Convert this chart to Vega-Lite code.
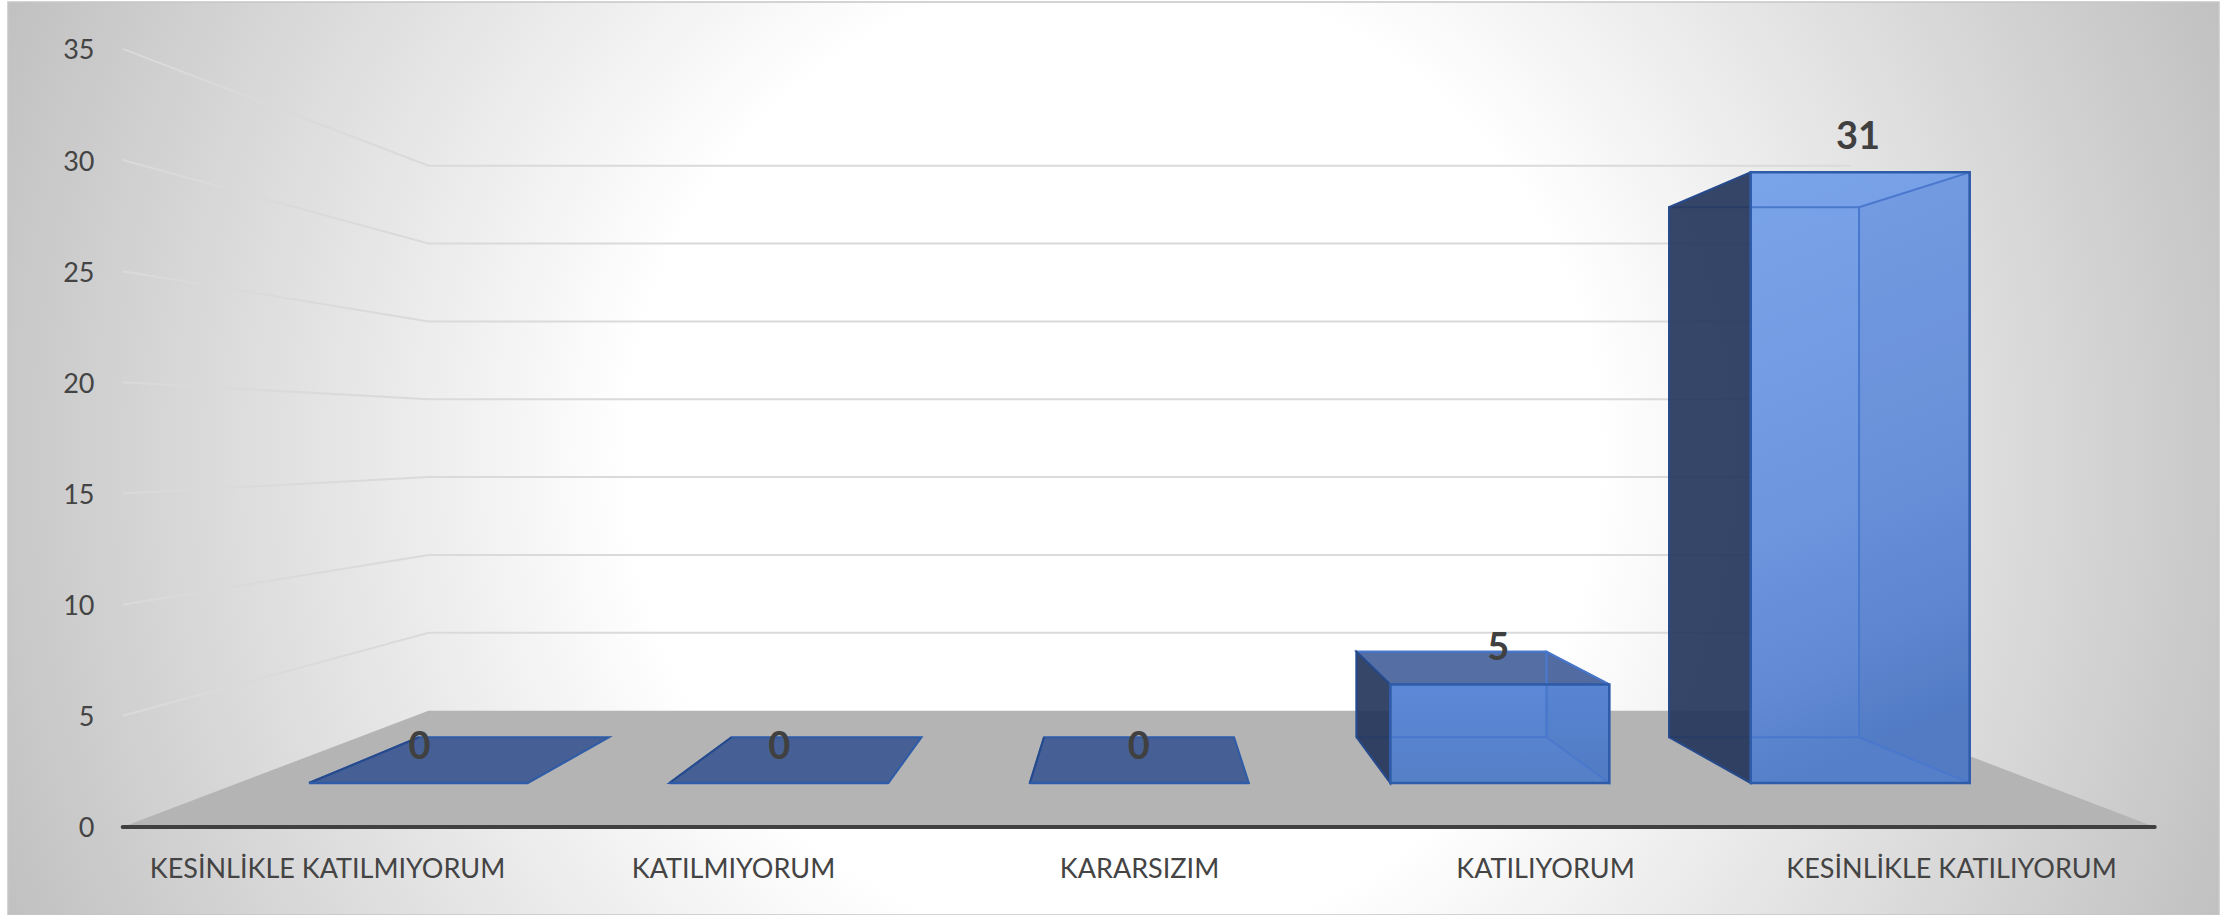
{
"$schema":"https://vega.github.io/schema/vega-lite/v6.json",
"width":2211,"height":913,"autosize":{"type":"none"},
"padding":{"left":8,"top":2,"right":15,"bottom":0},
"background":"white",
"config":{"view":{"stroke":"#c6c6c6","strokeWidth":1.5,"fill":{"gradient":"radial","x1":0.5,"y1":0.5,"r1":0,"x2":0.5,"y2":0.5,"r2":0.55,"stops":[{"offset":0,"color":"#ffffff"},{"offset":0.399,"color":"#ffffff"},{"offset":1,"color":"#bfbfbf"}]}},"font":"Lato"},
"datasets":{
"bars":[
{"category":"KESİNLİKLE KATILMIYORUM","i":0,"value":0},
{"category":"KATILMIYORUM","i":1,"value":0},
{"category":"KARARSIZIM","i":2,"value":0},
{"category":"KATILIYORUM","i":3,"value":5},
{"category":"KESİNLİKLE KATILIYORUM","i":4,"value":31}],
"ticks":[{"tick":0},{"tick":5},{"tick":10},{"tick":15},{"tick":20},{"tick":25},{"tick":30},{"tick":35}]
},
"layer":[
{"data":{"name":"ticks"},
 "transform":[{"filter":"datum.tick==0"},{"calculate":"[0,1]","as":"ts"},{"flatten":["ts"],"as":["t"]},
  {"calculate":"5.232*datum.t","as":"fy"},{"calculate":"0.4968+(1.25-0.4968)*datum.t","as":"fl"},{"calculate":"5.5017+(4.754-5.5017)*datum.t","as":"fr"}],
 "mark":{"type":"area","orient":"horizontal","fill":"#b4b4b4"},
 "encoding":{
  "y":{"field":"fy","type":"quantitative","stack":null,"scale":{"domain":[-3.959,37.11],"nice":false,"zero":false},
   "axis":{"values":[0,5,10,15,20,25,30,35],"title":null,"domain":false,"ticks":false,"grid":false,"offset":-86,"labelPadding":0,"labelOffset":2,"labelFontSize":27,"labelColor":"#444444","labelFont":"Lato","labelBaseline":"middle"}},
  "x":{"field":"fl","type":"quantitative","stack":null,"scale":{"domain":[0.2143,5.66],"nice":false,"zero":false},
   "axis":{"values":[1,2,3,4,5],"title":null,"domain":false,"ticks":false,"grid":false,"offset":-46,"labelPadding":0,"labelFontSize":27,"labelLimit":700,"labelColor":"#444444","labelFont":"Lato","labelBaseline":"middle","labelOverlap":false,"labelBound":false,"labelFlush":false,
    "labelExpr":"['KESİNLİKLE KATILMIYORUM','KATILMIYORUM','KARARSIZIM','KATILIYORUM','KESİNLİKLE KATILIYORUM'][datum.value-1]"}},
  "x2":{"field":"fr"}}},
{"data":{"name":"ticks"},
 "transform":[{"filter":"datum.tick>0"},{"calculate":"[0,1,2]","as":"ps"},{"flatten":["ps"],"as":["p"]},
  {"calculate":"datum.p==0?0.4968:(datum.p==1?1.25:4.754)","as":"gx"},
  {"calculate":"datum.p==0?datum.tick:5.232+0.7004*datum.tick","as":"gy"}],
 "mark":{"type":"line","color":"#dadada","strokeWidth":2},
 "encoding":{
  "x":{"field":"gx","type":"quantitative","scale":{"domain":[0.2143,5.66],"nice":false,"zero":false}},
  "y":{"field":"gy","type":"quantitative","scale":{"domain":[-3.959,37.11],"nice":false,"zero":false}},
  "detail":{"field":"tick"}}},
{"data":{"name":"ticks"},
 "transform":[{"filter":"datum.tick==0"},{"calculate":"0.4968","as":"a"},{"calculate":"5.5017","as":"b"}],
 "mark":{"type":"rule","color":"#404040","strokeWidth":4,"strokeCap":"round"},
 "encoding":{
  "x":{"field":"a","type":"quantitative","scale":{"domain":[0.2143,5.66],"nice":false,"zero":false}},
  "x2":{"field":"b"},
  "y":{"field":"tick","type":"quantitative","scale":{"domain":[-3.959,37.11],"nice":false,"zero":false}}}},
{"data":{"name":"bars"},
 "transform":[
  {"calculate":"0.9557+0.8877*datum.i","as":"xF"},
  {"calculate":"datum.xF+0.5394","as":"xFr"},
  {"calculate":"1.2266+0.7697*datum.i","as":"xB"},
  {"calculate":"datum.xB+0.468","as":"xBr"},
  {"calculate":"1.979+0.8862*datum.value","as":"topF"},
  {"calculate":"4.035+0.7691*datum.value","as":"topB"},
  {"calculate":"1.979","as":"baseF"},
  {"calculate":"4.035","as":"baseB"},
  {"calculate":"[0,1]","as":"ts"},
  {"flatten":["ts"],"as":["t"]},
  {"calculate":"datum.xB+(datum.xF-datum.xB)*datum.t","as":"lx"},
  {"calculate":"datum.xBr+(datum.xFr-datum.xBr)*datum.t","as":"rx"},
  {"calculate":"datum.topB+(datum.topF-datum.topB)*datum.t","as":"ty"},
  {"calculate":"datum.baseB+(datum.baseF-datum.baseB)*datum.t","as":"by"}],
 "layer":[
  {"transform":[{"filter":"datum.topB>datum.topF"}],
   "mark":{"type":"area","orient":"horizontal","fill":"#2a4a8c","fillOpacity":0.8,"stroke":"#2f5ca8","strokeWidth":2},
   "encoding":{
    "y":{"field":"ty","type":"quantitative","stack":null,"scale":{"domain":[-3.959,37.11],"nice":false,"zero":false}},
    "x":{"field":"lx","type":"quantitative","stack":null,"scale":{"domain":[0.2143,5.66],"nice":false,"zero":false}},
    "x2":{"field":"rx"},"detail":{"field":"category"}}},
  {"transform":[{"filter":"datum.t==1"}],
   "mark":{"type":"rect"},
   "encoding":{
    "x":{"field":"xF","type":"quantitative","scale":{"domain":[0.2143,5.66],"nice":false,"zero":false}},
    "x2":{"field":"xFr"},
    "y":{"field":"topF","type":"quantitative","scale":{"domain":[-3.959,37.11],"nice":false,"zero":false}},
    "y2":{"field":"baseF"},
    "fill":{"condition":{"test":"datum.value>10","value":{"gradient":"linear","x1":0,"y1":0,"x2":0.15,"y2":1,"stops":[{"offset":0,"color":"#7aa4ea"},{"offset":0.6,"color":"#6d95de"},{"offset":0.85,"color":"#6189d4"},{"offset":1,"color":"#557fc8"}]}},
     "value":{"gradient":"linear","x1":0,"y1":0,"x2":0,"y2":1,"stops":[{"offset":0,"color":"#5c88d8"},{"offset":1,"color":"#557fc6"}]}}}},
  {"mark":{"type":"area","orient":"vertical","fill":"#1f4488","fillOpacity":0.06,"stroke":"#4a78cc","strokeWidth":2},
   "transform":[{"filter":"datum.value>0"}],
   "encoding":{
    "x":{"field":"rx","type":"quantitative","scale":{"domain":[0.2143,5.66],"nice":false,"zero":false}},
    "y":{"field":"ty","type":"quantitative","stack":null,"scale":{"domain":[-3.959,37.11],"nice":false,"zero":false}},
    "y2":{"field":"by"},"detail":{"field":"category"}}},
  {"transform":[{"filter":"datum.t==1 && datum.value>0"}],
   "mark":{"type":"rect","fillOpacity":0,"stroke":"#4a78cc","strokeWidth":2},
   "encoding":{
    "x":{"field":"xB","type":"quantitative","scale":{"domain":[0.2143,5.66],"nice":false,"zero":false}},
    "x2":{"field":"xBr"},
    "y":{"field":"topB","type":"quantitative","scale":{"domain":[-3.959,37.11],"nice":false,"zero":false}},
    "y2":{"field":"baseB"}}},
  {"mark":{"type":"area","orient":"vertical","fill":"#25365c","fillOpacity":0.92,"stroke":"#264a8c","strokeWidth":2},
   "encoding":{
    "x":{"field":"lx","type":"quantitative","scale":{"domain":[0.2143,5.66],"nice":false,"zero":false}},
    "y":{"field":"ty","type":"quantitative","stack":null,"scale":{"domain":[-3.959,37.11],"nice":false,"zero":false}},
    "y2":{"field":"by"},"detail":{"field":"category"}}},
  {"transform":[{"filter":"datum.t==1"}],
   "mark":{"type":"rect","fillOpacity":0,"stroke":"#2f5ca8","strokeWidth":2.5},
   "encoding":{
    "x":{"field":"xF","type":"quantitative","scale":{"domain":[0.2143,5.66],"nice":false,"zero":false}},
    "x2":{"field":"xFr"},
    "y":{"field":"topF","type":"quantitative","scale":{"domain":[-3.959,37.11],"nice":false,"zero":false}},
    "y2":{"field":"baseF"}}},
  {"transform":[{"filter":"datum.t==1"},{"calculate":"1.228+0.8857*datum.i","as":"tx"},{"calculate":"3.56+0.8852*datum.value","as":"tyy"}],
   "mark":{"type":"text","font":"Lato","fontWeight":"bold","fontSize":38,"color":"#404040","baseline":"middle","align":"center"},
   "encoding":{
    "x":{"field":"tx","type":"quantitative","scale":{"domain":[0.2143,5.66],"nice":false,"zero":false}},
    "y":{"field":"tyy","type":"quantitative","scale":{"domain":[-3.959,37.11],"nice":false,"zero":false}},
    "text":{"field":"value","type":"quantitative"}}}
 ]}
]
}
